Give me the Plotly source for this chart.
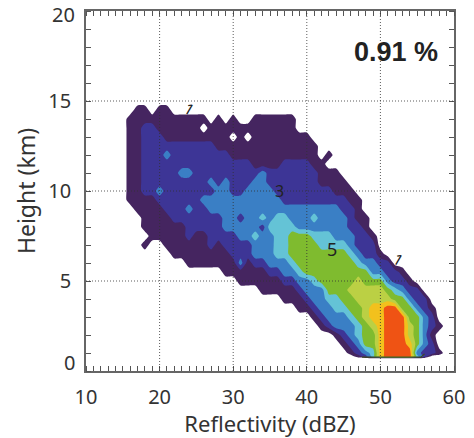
import plotly.graph_objects as go

X_DBZ = list(range(14, 61))
Y_KM = [0.5, 0.7, 0.8] + [h / 2 for h in range(2, 32)]

# Occurrence classes: height -> dBZ spans at or above the class
FREQ_1 = {14.5:[(17,18),(20,21)],14:[(16,25),(26,26),(28,28),(30,30),(33,35),(36,38)],13.5:[(16,25),(27,38)],13:[(16,29),(31,31),(33,40)],
          12.5:[(16,41)],12:[(16,41),(43,43)],11.5:[(16,42)],11:[(16,44)],10.5:[(16,45)],10:[(16,46)],9.5:[(16,47)],
          9:[(17,47)],8.5:[(18,48)],8:[(18,48)],7.5:[(19,49)],7:[(18,18),(21,49)],6.5:[(22,50)],6:[(24,51)],5.5:[(29,53)],
          5:[(31,54)],4.5:[(34,55)],4:[(37,56)],3.5:[(39,57)],3:[(41,57)],2.5:[(42,58)],2:[(44,57)],1.5:[(45,57)],1:[(46,58)],0.8:[(47,56)]}
FREQ_2 = {13.5:[(18,19)],13:[(18,20)],12.5:[(18,27)],12:[(18,29)],11.5:[(18,32),(37,40)],11:[(18,41)],10.5:[(18,41)],
          10:[(18,43)],9.5:[(20,45)],9:[(21,46)],8.5:[(22,46)],8:[(24,47)],7.5:[(24,24),(27,48)],7:[(27,27),(29,49)],6.5:[(30,49)],
          6:[(31,31),(33,51)],5.5:[(35,52)],5:[(37,53)],4.5:[(39,55)],4:[(40,56)],3.5:[(41,56)],3:[(42,57)],2.5:[(43,57)],
          2:[(45,56)],1.5:[(46,57)],1:[(47,57)],0.8:[(48,56)]}
FREQ_3 = {12:[(21,21)],11:[(23,24),(34,34)],10.5:[(27,27),(29,29),(33,34)],10:[(20,20),(28,29),(32,35)],9.5:[(26,36)],
          9:[(24,24),(27,44)],8.5:[(29,30),(32,45)],8:[(29,33),(35,45)],7.5:[(31,46)],7:[(33,46)],6.5:[(33,47)],6:[(31,31),(35,49)],5.5:[(37,50)],
          5:[(39,51)],4.5:[(40,53)],4:[(41,54)],3.5:[(42,55)],3:[(43,56)],2.5:[(44,56)],2:[(46,56)],1.5:[(47,56)],1:[(48,55)],0.8:[(49,55)]}
FREQ_4 = {8.5:[(34,34),(36,37),(41,41)],8:[(35,38)],7.5:[(33,33),(36,43)],7:[(36,45)],6.5:[(36,46)],6:[(38,47)],
          5.5:[(39,48)],5:[(41,50)],4.5:[(43,52)],4:[(43,53)],3.5:[(44,54)],3:[(46,55)],2.5:[(47,55)],2:[(47,55)],
          1.5:[(48,55)],1:[(49,54)],0.8:[(49,55)]}
FREQ_5 = {7.5:[(38,40)],7:[(38,41)],6.5:[(38,45)],6:[(39,46)],5.5:[(40,48)],5:[(42,50)],4.5:[(43,51)],4:[(45,53)],
          3.5:[(46,54)],3:[(47,55)],2.5:[(48,55)],2:[(48,55)],1.5:[(48,55)],1:[(50,54)],0.8:[(50,54)]}
FREQ_6 = {5:[(47,47)],4.5:[(46,50)],4:[(47,51)],3.5:[(48,52)],3:[(48,53)],2.5:[(49,54)],2:[(50,54)],1.5:[(50,54)],1:[(50,54)],0.8:[(50,54)]}
FREQ_7 = {3.5:[(49,52)],3:[(49,53)],2.5:[(50,53)],2:[(50,53)],1.5:[(50,54)],1:[(50,54)],0.8:[(50,54)]}
FREQ_8 = {3.5:[(51,52)],3:[(51,53)],2.5:[(51,53)],2:[(51,53)],1.5:[(51,53)],1:[(51,54)],0.8:[(51,54)]}
CLASSES = [FREQ_1, FREQ_2, FREQ_3, FREQ_4, FREQ_5, FREQ_6, FREQ_7, FREQ_8]
COLORS = ["#ffffff", "#452560", "#3D3596", "#3A7FC5", "#64C3D6", "#7FBB2F", "#BBD044", "#F2C11D", "#EF5314"]
X_TICKS = [10, 20, 30, 40, 50, 60]
Y_TICKS = [5, 10, 15]
GRID_X = [20, 30, 40, 50]
GRID_Y = [5, 10, 15]
BASE_X = [47.5, 55.5, 56]
BASE_Y = [0.77, 0.77, 0.95]

z = [[0 for _ in X_DBZ] for _ in Y_KM]
for level, table in enumerate(CLASSES, start=1):
    for h, spans in table.items():
        for a, b in spans:
            for d in range(a, b + 1):
                z[Y_KM.index(h)][X_DBZ.index(d)] = level

fig = go.Figure(go.Contour(
    x=X_DBZ, y=Y_KM, z=z,
    contours=dict(start=0.5, end=7.5, size=1, coloring="fill", showlines=False),
    line=dict(width=0, smoothing=0.6),
    colorscale=[[i / (len(COLORS) - 1), c] for i, c in enumerate(COLORS)],
    showscale=False, hoverinfo="skip",
))
fig.add_trace(go.Scatter(x=BASE_X, y=BASE_Y, mode="lines", line=dict(color="#3d4a20", width=1.2), hoverinfo="skip"))

FONT = "Noto Sans"
INK = "#333333"
GRID = dict(color="rgba(50,50,50,.8)", width=1, dash="1px,2px")
for g in GRID_X:
    fig.add_shape(type="line", x0=g, x1=g, y0=0, y1=20, layer="above", line=GRID)
for g in GRID_Y:
    fig.add_shape(type="line", x0=10, x1=60, y0=g, y1=g, layer="above", line=GRID)

axis = dict(showline=True, linecolor="#666666", linewidth=1.5, mirror="ticks", showgrid=False, zeroline=False,
            ticks="", tickfont=dict(family=FONT, size=20, color=INK))
fig.update_layout(
    width=474, height=438, margin=dict(l=85.5, r=15, t=9, b=67),
    paper_bgcolor="white", plot_bgcolor="white", showlegend=False,
    xaxis=dict(axis, range=[10, 60], tickvals=X_TICKS, ticklabelstandoff=7,
               minor=dict(dtick=1, tick0=10, ticks="inside", ticklen=5, tickcolor="#555555", tickwidth=1),
               title=dict(text="Reflectivity (dBZ)", font=dict(family=FONT, size=22, color=INK), standoff=4)),
    yaxis=dict(axis, range=[0, 20], tickvals=Y_TICKS, ticklabelstandoff=9,
               minor=dict(dtick=1, tick0=0, ticks="inside", ticklen=5, tickcolor="#555555", tickwidth=1),
               title=dict(text="Height (km)", font=dict(family=FONT, size=23, color=INK), standoff=6)),
    annotations=[
        dict(text="0.91 %", x=52.1, y=17.7, showarrow=False, font=dict(family="Liberation Sans", size=27, color="#222222", weight="bold")),
        dict(text="20", xref="paper", x=0, y=20, xanchor="right", xshift=-9, yshift=-3, showarrow=False, font=dict(family=FONT, size=20, color=INK)),
        dict(text="0", xref="paper", x=0, y=0, xanchor="right", xshift=-9, yshift=9, showarrow=False, font=dict(family=FONT, size=20, color=INK)),
        dict(text="1", x=24.1, y=14.55, showarrow=False, textangle=30, font=dict(family=FONT, size=15, color="#222222")),
        dict(text="3", x=36.3, y=10.0, showarrow=False, font=dict(family=FONT, size=16, color="#222222")),
        dict(text="5", x=43.4, y=6.8, showarrow=False, font=dict(family=FONT, size=18, color="#222222")),
        dict(text="1", x=52.4, y=6.2, showarrow=False, textangle=30, font=dict(family=FONT, size=15, color="#222222")),
    ],
)
fig.write_html("out.html", post_script="document.body.style.margin='0';", config={"displayModeBar": False})
